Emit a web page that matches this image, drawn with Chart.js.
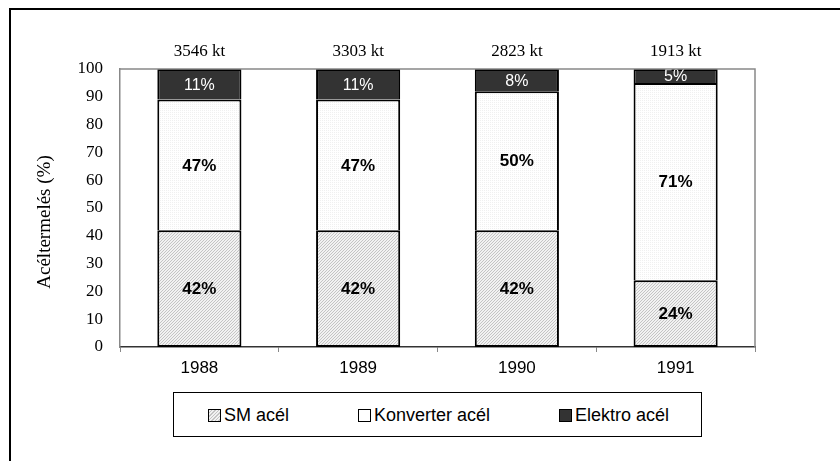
<!DOCTYPE html>
<html>
<head>
<meta charset="utf-8">
<script src="https://cdn.jsdelivr.net/npm/chart.js@4"></script>
<style>
  body{margin:0;background:#fff;}
  #wrap{position:relative;width:840px;height:461px;overflow:hidden;}
  #frame{position:absolute;left:9px;top:8px;width:900px;height:600px;border:2px solid #000;box-sizing:border-box;}
  canvas{position:absolute;left:0;top:0;}
  #legend{position:absolute;left:173px;top:392px;width:529px;height:45px;border:1.5px solid #000;box-sizing:border-box;background:#fff;
    font-family:"Liberation Sans",Arial,sans-serif;font-size:18px;color:#000;}
  .item{position:absolute;top:12px;display:flex;align-items:center;white-space:nowrap;}
  .sw{width:11px;height:11px;border:1.5px solid #000;margin-right:3px;}
</style>
</head>
<body>
<div id="wrap">
  <div id="frame"></div>
  <canvas id="chart" width="840" height="461"></canvas>
  <div id="legend"></div>
</div>
<script>
const years = ["1988","1989","1990","1991"];
const totals = ["3546 kt","3303 kt","2823 kt","1913 kt"];
const seriesNames = ["SM acél","Konverter acél","Elektro acél"];
const smVals = [42,42,42,24];
const konverterVals = [47,47,50,71];
const elektroVals = [11,11,8,5];
const yTicks = [0,10,20,30,40,50,60,70,80,90,100];
const yTitle = "Acéltermelés (%)";

// fill patterns
function hatch(){
    const c = document.createElement("canvas");
    c.width = 3; c.height = 3;
    const g = c.getContext("2d");
    g.fillStyle = "#f2f2f2"; g.fillRect(0,0,3,3);
    g.fillStyle = "#c4c4c4";
    g.fillRect(2,0,1,1); g.fillRect(1,1,1,1); g.fillRect(0,2,1,1);
    return document.getElementById("chart").getContext("2d").createPattern(c,"repeat");
}
function dots(){
    const c = document.createElement("canvas");
    c.width = 2; c.height = 2;
    const g = c.getContext("2d");
    g.fillStyle = "#fff"; g.fillRect(0,0,2,2);
    g.fillStyle = "#f0f0f0"; g.fillRect(0,0,1,1);
    return document.getElementById("chart").getContext("2d").createPattern(c,"repeat");
}

const fills = [hatch(), dots(), "#333333"];
const labelStyle = [
    {color:"#000", font:"bold 17px 'Liberation Sans', Arial"},
    {color:"#000", font:"bold 17px 'Liberation Sans', Arial"},
    {color:"#fff", font:"16px 'Liberation Sans', Arial"}
];

/* legend (html) */
const legendPos = [34, 184, 385];
const swatchCss = [
    "background:repeating-linear-gradient(135deg,#f2f2f2 0 1.5px,#c4c4c4 1.5px 2.5px)",
    "background:#fff",
    "background:#333"
];
seriesNames.forEach((n,i)=>{
    const d = document.createElement("div");
    d.className = "item";
    d.style.left = legendPos[i]+"px";
    d.innerHTML = '<span class="sw" style="'+swatchCss[i]+'"></span><span>'+n+'</span>';
    document.getElementById("legend").appendChild(d);
});

const labelsPlugin = {
    id:"labels",
    afterDatasetsDraw(chart){
        const ctx = chart.ctx;
        const a = chart.chartArea;
        ctx.save();
        ctx.textAlign = "center";
        ctx.textBaseline = "middle";
        chart.data.datasets.forEach((ds,di)=>{
            chart.getDatasetMeta(di).data.forEach((bar,i)=>{
                ctx.fillStyle = labelStyle[di].color;
                ctx.font = labelStyle[di].font;
                ctx.fillText(ds.data[i]+"%", bar.x, (bar.y+bar.base)/2 + 1);
            });
        });
        // totals above bars
        const xs = chart.scales.x;
        ctx.fillStyle = "#000";
        ctx.font = "17px 'Liberation Serif', 'Times New Roman'";
        totals.forEach((t,i)=>{
            ctx.fillText(t, xs.getPixelForValue(i), a.top - 17);
        });
        // y axis title
        ctx.save();
        ctx.translate(45, 222);
        ctx.rotate(-Math.PI/2);
        ctx.font = "19px 'Liberation Serif', 'Times New Roman'";
        ctx.fillText(yTitle, 0, 0);
        ctx.restore();
        // plot area box (top + right)
        ctx.strokeStyle = "#888";
        ctx.lineWidth = 1.5;
        ctx.beginPath();
        ctx.moveTo(a.left, a.top);
        ctx.lineTo(a.right, a.top);
        ctx.lineTo(a.right, a.bottom);
        ctx.stroke();
        ctx.restore();
    }
};

new Chart(document.getElementById("chart"), {
    type:"bar",
    data:{
        labels:years,
        datasets:[smVals, konverterVals, elektroVals].map((v,i)=>({
            label:seriesNames[i],
            data:v,
            backgroundColor:fills[i],
            borderColor:"#000",
            borderWidth:{top:2,left:2,right:2,bottom:i===0?2:0},
            borderSkipped:false,
            categoryPercentage:1,
            barPercentage:0.53
        }))
    },
    options:{
        responsive:false,
        devicePixelRatio:1,
        animation:false,
        layout:{padding:{top:69,right:85,left:0,bottom:0}},
        plugins:{legend:{display:false},tooltip:{enabled:false}},
        scales:{
            x:{
                stacked:true,
                grid:{display:true,drawOnChartArea:false,drawTicks:true,tickLength:5,color:"#888",offset:true},
                border:{display:true,color:"#333",width:1.5},
                ticks:{color:"#000",padding:6,font:{family:"'Liberation Sans', Arial",size:17}},
                afterFit(s){ s.height = 114; }
            },
            y:{
                stacked:true,
                min:0,max:100,
                afterBuildTicks(s){ s.ticks = yTicks.map(v=>({value:v})); },
                grid:{display:false,drawTicks:false},
                border:{display:true,color:"#888",width:1.5},
                ticks:{color:"#000",padding:17,font:{family:"'Liberation Serif', 'Times New Roman'",size:17}},
                afterFit(s){ s.width = 120; }
            }
        }
    },
    plugins:[labelsPlugin]
});
</script>
</body>
</html>
